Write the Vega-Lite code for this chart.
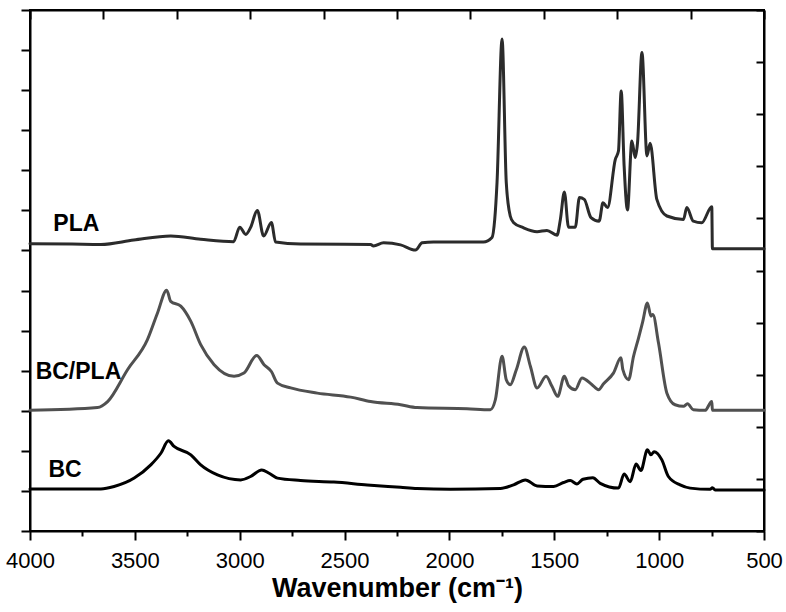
{
  "$schema": "https://vega.github.io/schema/vega-lite/v6.json",
  "width": 734,
  "height": 521,
  "autosize": {"type": "none"},
  "padding": {"left": 30, "top": 10, "right": 22, "bottom": 81},
  "background": "white",
  "config": {
    "view": {"stroke": "black", "strokeWidth": 2},
    "axis": {"domainColor": "black", "domainWidth": 2, "tickColor": "black", "tickWidth": 2, "grid": false}
  },
  "datasets": {
    "spectra": [
      {"series": "PLA", "wavenumber": 4000, "intensity": 7.17},
      {"series": "PLA", "wavenumber": 3800, "intensity": 7.16},
      {"series": "PLA", "wavenumber": 3662, "intensity": 7.15},
      {"series": "PLA", "wavenumber": 3505, "intensity": 7.26},
      {"series": "PLA", "wavenumber": 3329, "intensity": 7.36},
      {"series": "PLA", "wavenumber": 3186, "intensity": 7.28},
      {"series": "PLA", "wavenumber": 3029, "intensity": 7.22},
      {"series": "PLA", "wavenumber": 3000, "intensity": 7.58},
      {"series": "PLA", "wavenumber": 2971, "intensity": 7.40},
      {"series": "PLA", "wavenumber": 2948, "intensity": 7.575},
      {"series": "PLA", "wavenumber": 2916, "intensity": 8.0},
      {"series": "PLA", "wavenumber": 2886, "intensity": 7.36},
      {"series": "PLA", "wavenumber": 2849, "intensity": 7.70},
      {"series": "PLA", "wavenumber": 2829, "intensity": 7.21},
      {"series": "PLA", "wavenumber": 2710, "intensity": 7.16},
      {"series": "PLA", "wavenumber": 2376, "intensity": 7.15},
      {"series": "PLA", "wavenumber": 2362, "intensity": 7.11},
      {"series": "PLA", "wavenumber": 2314, "intensity": 7.19},
      {"series": "PLA", "wavenumber": 2233, "intensity": 7.14},
      {"series": "PLA", "wavenumber": 2162, "intensity": 7.01},
      {"series": "PLA", "wavenumber": 2130, "intensity": 7.19},
      {"series": "PLA", "wavenumber": 2076, "intensity": 7.21},
      {"series": "PLA", "wavenumber": 1838, "intensity": 7.21},
      {"series": "PLA", "wavenumber": 1797, "intensity": 7.325},
      {"series": "PLA", "wavenumber": 1784, "intensity": 7.775},
      {"series": "PLA", "wavenumber": 1773, "intensity": 8.70},
      {"series": "PLA", "wavenumber": 1749, "intensity": 12.275},
      {"series": "PLA", "wavenumber": 1729, "intensity": 8.70},
      {"series": "PLA", "wavenumber": 1710, "intensity": 7.86},
      {"series": "PLA", "wavenumber": 1695, "intensity": 7.70},
      {"series": "PLA", "wavenumber": 1648, "intensity": 7.57},
      {"series": "PLA", "wavenumber": 1582, "intensity": 7.47},
      {"series": "PLA", "wavenumber": 1535, "intensity": 7.50},
      {"series": "PLA", "wavenumber": 1487, "intensity": 7.38},
      {"series": "PLA", "wavenumber": 1471, "intensity": 7.775},
      {"series": "PLA", "wavenumber": 1452, "intensity": 8.46},
      {"series": "PLA", "wavenumber": 1432, "intensity": 7.58},
      {"series": "PLA", "wavenumber": 1400, "intensity": 7.58},
      {"series": "PLA", "wavenumber": 1380, "intensity": 8.32},
      {"series": "PLA", "wavenumber": 1357, "intensity": 8.275},
      {"series": "PLA", "wavenumber": 1325, "intensity": 7.82},
      {"series": "PLA", "wavenumber": 1286, "intensity": 7.73},
      {"series": "PLA", "wavenumber": 1268, "intensity": 8.19},
      {"series": "PLA", "wavenumber": 1246, "intensity": 8.07},
      {"series": "PLA", "wavenumber": 1209, "intensity": 9.275},
      {"series": "PLA", "wavenumber": 1194, "intensity": 9.48},
      {"series": "PLA", "wavenumber": 1181, "intensity": 10.98},
      {"series": "PLA", "wavenumber": 1167, "intensity": 9.11},
      {"series": "PLA", "wavenumber": 1151, "intensity": 8.01},
      {"series": "PLA", "wavenumber": 1130, "intensity": 9.73},
      {"series": "PLA", "wavenumber": 1114, "intensity": 9.32},
      {"series": "PLA", "wavenumber": 1103, "intensity": 9.69},
      {"series": "PLA", "wavenumber": 1082, "intensity": 11.94},
      {"series": "PLA", "wavenumber": 1058, "intensity": 9.36},
      {"series": "PLA", "wavenumber": 1043, "intensity": 9.675},
      {"series": "PLA", "wavenumber": 1011, "intensity": 8.275},
      {"series": "PLA", "wavenumber": 963, "intensity": 7.86},
      {"series": "PLA", "wavenumber": 884, "intensity": 7.775},
      {"series": "PLA", "wavenumber": 868, "intensity": 8.07},
      {"series": "PLA", "wavenumber": 837, "intensity": 7.73},
      {"series": "PLA", "wavenumber": 797, "intensity": 7.69},
      {"series": "PLA", "wavenumber": 749, "intensity": 8.09},
      {"series": "PLA", "wavenumber": 746, "intensity": 7.04},
      {"series": "PLA", "wavenumber": 500, "intensity": 7.04},

      {"series": "BC/PLA", "wavenumber": 4000, "intensity": 3.01},
      {"series": "BC/PLA", "wavenumber": 3678, "intensity": 3.08},
      {"series": "BC/PLA", "wavenumber": 3630, "intensity": 3.23},
      {"series": "BC/PLA", "wavenumber": 3535, "intensity": 4.025},
      {"series": "BC/PLA", "wavenumber": 3440, "intensity": 4.775},
      {"series": "BC/PLA", "wavenumber": 3392, "intensity": 5.44},
      {"series": "BC/PLA", "wavenumber": 3348, "intensity": 6.01},
      {"series": "BC/PLA", "wavenumber": 3329, "intensity": 5.73},
      {"series": "BC/PLA", "wavenumber": 3281, "intensity": 5.61},
      {"series": "BC/PLA", "wavenumber": 3233, "intensity": 5.23},
      {"series": "BC/PLA", "wavenumber": 3186, "intensity": 4.65},
      {"series": "BC/PLA", "wavenumber": 3122, "intensity": 4.15},
      {"series": "BC/PLA", "wavenumber": 3027, "intensity": 3.86},
      {"series": "BC/PLA", "wavenumber": 2980, "intensity": 3.94},
      {"series": "BC/PLA", "wavenumber": 2919, "intensity": 4.38},
      {"series": "BC/PLA", "wavenumber": 2884, "intensity": 4.15},
      {"series": "BC/PLA", "wavenumber": 2849, "intensity": 3.98},
      {"series": "BC/PLA", "wavenumber": 2820, "intensity": 3.69},
      {"series": "BC/PLA", "wavenumber": 2757, "intensity": 3.57},
      {"series": "BC/PLA", "wavenumber": 2630, "intensity": 3.44},
      {"series": "BC/PLA", "wavenumber": 2471, "intensity": 3.34},
      {"series": "BC/PLA", "wavenumber": 2376, "intensity": 3.23},
      {"series": "BC/PLA", "wavenumber": 2233, "intensity": 3.15},
      {"series": "BC/PLA", "wavenumber": 2154, "intensity": 3.08},
      {"series": "BC/PLA", "wavenumber": 1916, "intensity": 3.05},
      {"series": "BC/PLA", "wavenumber": 1805, "intensity": 3.025},
      {"series": "BC/PLA", "wavenumber": 1781, "intensity": 3.275},
      {"series": "BC/PLA", "wavenumber": 1749, "intensity": 4.36},
      {"series": "BC/PLA", "wavenumber": 1729, "intensity": 3.775},
      {"series": "BC/PLA", "wavenumber": 1710, "intensity": 3.65},
      {"series": "BC/PLA", "wavenumber": 1681, "intensity": 4.025},
      {"series": "BC/PLA", "wavenumber": 1643, "intensity": 4.59},
      {"series": "BC/PLA", "wavenumber": 1614, "intensity": 4.11},
      {"series": "BC/PLA", "wavenumber": 1582, "intensity": 3.57},
      {"series": "BC/PLA", "wavenumber": 1539, "intensity": 3.86},
      {"series": "BC/PLA", "wavenumber": 1511, "intensity": 3.61},
      {"series": "BC/PLA", "wavenumber": 1484, "intensity": 3.36},
      {"series": "BC/PLA", "wavenumber": 1452, "intensity": 3.86},
      {"series": "BC/PLA", "wavenumber": 1432, "intensity": 3.625},
      {"series": "BC/PLA", "wavenumber": 1400, "intensity": 3.525},
      {"series": "BC/PLA", "wavenumber": 1368, "intensity": 3.82},
      {"series": "BC/PLA", "wavenumber": 1320, "intensity": 3.65},
      {"series": "BC/PLA", "wavenumber": 1289, "intensity": 3.525},
      {"series": "BC/PLA", "wavenumber": 1265, "intensity": 3.675},
      {"series": "BC/PLA", "wavenumber": 1218, "intensity": 3.94},
      {"series": "BC/PLA", "wavenumber": 1182, "intensity": 4.32},
      {"series": "BC/PLA", "wavenumber": 1173, "intensity": 4.025},
      {"series": "BC/PLA", "wavenumber": 1146, "intensity": 3.775},
      {"series": "BC/PLA", "wavenumber": 1122, "intensity": 4.36},
      {"series": "BC/PLA", "wavenumber": 1098, "intensity": 4.82},
      {"series": "BC/PLA", "wavenumber": 1078, "intensity": 5.23},
      {"series": "BC/PLA", "wavenumber": 1056, "intensity": 5.69},
      {"series": "BC/PLA", "wavenumber": 1039, "intensity": 5.36},
      {"series": "BC/PLA", "wavenumber": 1030, "intensity": 5.40},
      {"series": "BC/PLA", "wavenumber": 1003, "intensity": 4.69},
      {"series": "BC/PLA", "wavenumber": 963, "intensity": 3.44},
      {"series": "BC/PLA", "wavenumber": 924, "intensity": 3.15},
      {"series": "BC/PLA", "wavenumber": 884, "intensity": 3.11},
      {"series": "BC/PLA", "wavenumber": 865, "intensity": 3.175},
      {"series": "BC/PLA", "wavenumber": 837, "intensity": 3.025},
      {"series": "BC/PLA", "wavenumber": 781, "intensity": 3.01},
      {"series": "BC/PLA", "wavenumber": 749, "intensity": 3.23},
      {"series": "BC/PLA", "wavenumber": 746, "intensity": 3.01},
      {"series": "BC/PLA", "wavenumber": 500, "intensity": 3.01},

      {"series": "BC", "wavenumber": 4000, "intensity": 1.05},
      {"series": "BC", "wavenumber": 3662, "intensity": 1.05},
      {"series": "BC", "wavenumber": 3599, "intensity": 1.11},
      {"series": "BC", "wavenumber": 3503, "intensity": 1.32},
      {"series": "BC", "wavenumber": 3424, "intensity": 1.65},
      {"series": "BC", "wavenumber": 3376, "intensity": 1.94},
      {"series": "BC", "wavenumber": 3340, "intensity": 2.25},
      {"series": "BC", "wavenumber": 3313, "intensity": 2.11},
      {"series": "BC", "wavenumber": 3233, "intensity": 1.90},
      {"series": "BC", "wavenumber": 3186, "intensity": 1.65},
      {"series": "BC", "wavenumber": 3106, "intensity": 1.40},
      {"series": "BC", "wavenumber": 2995, "intensity": 1.275},
      {"series": "BC", "wavenumber": 2948, "intensity": 1.36},
      {"series": "BC", "wavenumber": 2895, "intensity": 1.525},
      {"series": "BC", "wavenumber": 2860, "intensity": 1.44},
      {"series": "BC", "wavenumber": 2820, "intensity": 1.32},
      {"series": "BC", "wavenumber": 2710, "intensity": 1.26},
      {"series": "BC", "wavenumber": 2551, "intensity": 1.22},
      {"series": "BC", "wavenumber": 2392, "intensity": 1.15},
      {"series": "BC", "wavenumber": 2233, "intensity": 1.09},
      {"series": "BC", "wavenumber": 2154, "intensity": 1.06},
      {"series": "BC", "wavenumber": 1995, "intensity": 1.04},
      {"series": "BC", "wavenumber": 1757, "intensity": 1.06},
      {"series": "BC", "wavenumber": 1694, "intensity": 1.15},
      {"series": "BC", "wavenumber": 1638, "intensity": 1.275},
      {"series": "BC", "wavenumber": 1582, "intensity": 1.125},
      {"series": "BC", "wavenumber": 1503, "intensity": 1.11},
      {"series": "BC", "wavenumber": 1456, "intensity": 1.21},
      {"series": "BC", "wavenumber": 1424, "intensity": 1.26},
      {"series": "BC", "wavenumber": 1392, "intensity": 1.175},
      {"series": "BC", "wavenumber": 1363, "intensity": 1.29},
      {"series": "BC", "wavenumber": 1316, "intensity": 1.33},
      {"series": "BC", "wavenumber": 1281, "intensity": 1.19},
      {"series": "BC", "wavenumber": 1194, "intensity": 1.07},
      {"series": "BC", "wavenumber": 1167, "intensity": 1.42},
      {"series": "BC", "wavenumber": 1138, "intensity": 1.23},
      {"series": "BC", "wavenumber": 1110, "intensity": 1.67},
      {"series": "BC", "wavenumber": 1087, "intensity": 1.51},
      {"series": "BC", "wavenumber": 1056, "intensity": 2.025},
      {"series": "BC", "wavenumber": 1039, "intensity": 1.90},
      {"series": "BC", "wavenumber": 1024, "intensity": 1.98},
      {"series": "BC", "wavenumber": 987, "intensity": 1.775},
      {"series": "BC", "wavenumber": 956, "intensity": 1.36},
      {"series": "BC", "wavenumber": 900, "intensity": 1.15},
      {"series": "BC", "wavenumber": 852, "intensity": 1.07},
      {"series": "BC", "wavenumber": 757, "intensity": 1.04},
      {"series": "BC", "wavenumber": 746, "intensity": 1.08},
      {"series": "BC", "wavenumber": 733, "intensity": 1.025},
      {"series": "BC", "wavenumber": 500, "intensity": 1.025}
    ],
    "labels": [
      {"label": "PLA", "wavenumber": 3779, "intensity": 7.475},
      {"label": "BC/PLA", "wavenumber": 3769, "intensity": 3.80},
      {"label": "BC", "wavenumber": 3833, "intensity": 1.35}
    ]
  },
  "layer": [
    {
      "data": {"name": "spectra"},
      "mark": {"type": "line", "strokeWidth": 3, "strokeJoin": "round", "strokeCap": "round", "interpolate": "monotone"},
      "encoding": {
        "x": {
          "field": "wavenumber", "type": "quantitative",
          "scale": {"domain": [500, 4000], "reverse": true, "nice": false, "zero": false},
          "axis": {
            "orient": "bottom",
            "values": [500, 750, 1000, 1250, 1500, 1750, 2000, 2250, 2500, 2750, 3000, 3250, 3500, 3750, 4000],
            "format": "d",
            "labelExpr": "datum.value % 500 === 0 ? datum.label : ''",
            "labelFlush": false, "labelOverlap": false, "labelBound": false,
            "labelFont": "Liberation Sans", "labelFontSize": 22, "labelColor": "black", "labelPadding": 10,
            "tickSize": {"condition": {"test": "datum.value % 500 === 0", "value": 9}, "value": 5},
            "title": "Wavenumber (cm⁻¹)",
            "titleFont": "Liberation Sans",
            "titleFontWeight": "bold", "titleFontSize": 27, "titleColor": "black",
            "titleBaseline": "alphabetic", "titleY": 65
          }
        },
        "y": {
          "field": "intensity", "type": "quantitative",
          "scale": {"domain": [0, 13], "nice": false, "zero": false},
          "axis": {"orient": "left", "values": [0,1,2,3,4,5,6,7,8,9,10,11,12,13], "labels": false, "tickSize": 9, "title": null}
        },
        "color": {
          "field": "series", "type": "nominal",
          "scale": {"domain": ["PLA", "BC/PLA", "BC"], "range": ["#2b2b2b", "#505050", "#000000"]},
          "legend": null
        }
      }
    },
    {
      "data": {"name": "spectra"},
      "mark": {"type": "line", "opacity": 0},
      "encoding": {
        "x": {
          "field": "wavenumber", "type": "quantitative",
          "axis": {"orient": "top", "values": [500, 850, 1200, 1550, 1900, 2250, 2600, 2950, 3300, 3650, 4000], "labels": false, "tickSize": -9, "title": null}
        },
        "y": {
          "field": "intensity", "type": "quantitative",
          "axis": {"orient": "right", "values": [0, 1.3, 2.6, 3.9, 5.2, 6.5, 7.8, 9.1, 10.4, 11.7, 13], "labels": false, "tickSize": -8, "title": null}
        },
        "detail": {"field": "series", "type": "nominal"}
      }
    },
    {
      "data": {"name": "labels"},
      "mark": {"type": "text", "font": "Liberation Sans", "fontWeight": "bold", "fontSize": 23, "baseline": "alphabetic", "align": "center", "color": "black"},
      "encoding": {
        "x": {"field": "wavenumber", "type": "quantitative", "axis": null},
        "y": {"field": "intensity", "type": "quantitative", "axis": null},
        "text": {"field": "label", "type": "nominal"}
      }
    }
  ],
  "resolve": {"axis": {"x": "independent", "y": "independent"}}
}
